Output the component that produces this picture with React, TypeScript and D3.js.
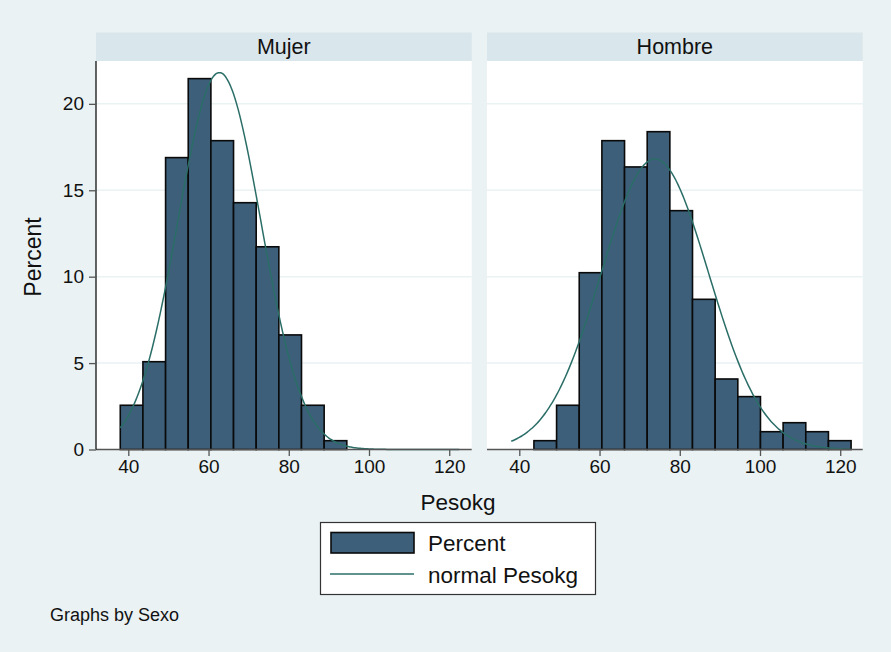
import React, { useEffect, useRef } from 'react';
import * as d3 from 'd3';

// histogram bins shared by both panels (Pesokg)
const binStart = 38;
const binWidth = 5.647;
const panels = ['Mujer', 'Hombre'];
const mujerPercent = [2.56, 5.08, 16.89, 21.46, 17.87, 14.28, 11.73, 6.63, 2.56, 0.51, 0, 0, 0, 0, 0];
const hombrePercent = [0, 0.51, 2.56, 10.23, 17.87, 16.35, 18.39, 13.82, 8.69, 4.08, 3.06, 1.03, 1.55, 1.03, 0.51];
// fitted normal (mean, sd)
const normalMean = [62.7, 73.8];
const normalSd = [10.33, 13.4];
const xTicks = [40, 60, 80, 100, 120];
const yTicks = [0, 5, 10, 15, 20];

const BG = '#eaf2f3';
const STRIP = '#d9e6eb';
const BAR = '#3d5f7a';
const LINE = '#2b6e68';
const FONT = '"Liberation Sans", Arial, sans-serif';

const App = () => {
  const ref = useRef(null);

  useEffect(() => {
    const svg = d3.select(ref.current);
    svg.selectAll('*').remove();

    const width = 891;
    const height = 652;
    svg.attr('width', width).attr('height', height);

    svg.append('rect').attr('width', width).attr('height', height).attr('fill', BG);

    const top = 61;
    const bottom = 449.5;
    const panelX = [[96, 471.7], [487, 862.7]];
    const y = d3.scaleLinear().domain([0, 22.48]).range([bottom, top]);
    const series = [mujerPercent, hombrePercent];

    panels.forEach((name, i) => {
      const [x0, x1] = panelX[i];
      const x = d3.scaleLinear().domain([31.95, 125.6]).range([x0, x1]);
      const g = svg.append('g');

      // strip
      g.append('rect').attr('x', x0).attr('y', 32.5).attr('width', x1 - x0).attr('height', top - 32.5).attr('fill', STRIP);
      g.append('text').attr('x', (x0 + x1) / 2).attr('y', 54).attr('text-anchor', 'middle')
        .attr('font-family', FONT).attr('font-size', 21.5).attr('fill', '#111').text(name);

      // plot area
      g.append('rect').attr('x', x0).attr('y', top).attr('width', x1 - x0).attr('height', bottom - top).attr('fill', '#fff');

      g.selectAll('line.grid').data(yTicks.filter(t => t > 0)).enter().append('line')
        .attr('x1', x0).attr('x2', x1).attr('y1', d => y(d)).attr('y2', d => y(d))
        .attr('stroke', BG).attr('stroke-width', 1.5);

      const bins = series[i].map((v, k) => ({ lo: binStart + k * binWidth, v })).filter(d => d.v > 0);
      g.selectAll('rect.bar').data(bins).enter().append('rect')
        .attr('x', d => x(d.lo))
        .attr('y', d => y(d.v))
        .attr('width', d => x(d.lo + binWidth) - x(d.lo))
        .attr('height', d => y(0) - y(d.v))
        .attr('fill', BAR).attr('stroke', '#0a0a0a').attr('stroke-width', 1.6);

      const peak = 100 * binWidth / (normalSd[i] * Math.sqrt(2 * Math.PI));
      const xs = d3.range(binStart, binStart + 15 * binWidth + 0.01, 0.5);
      const line = d3.line()
        .x(d => x(d))
        .y(d => y(peak * Math.exp(-0.5 * ((d - normalMean[i]) / normalSd[i]) ** 2)))
        .curve(d3.curveMonotoneX);
      g.append('path').datum(xs).attr('d', line).attr('fill', 'none').attr('stroke', LINE).attr('stroke-width', 1.5);

      // x axis
      const xa = g.append('g').attr('transform', `translate(0,${bottom})`)
        .call(d3.axisBottom(x).tickValues(xTicks).tickSize(6.5).tickPadding(4).tickSizeOuter(0));
      xa.select('.domain').attr('d', `M${x0},0H${x1}`).attr('stroke', '#555').attr('stroke-width', 1.3);
      xa.selectAll('.tick line').attr('stroke', '#555').attr('stroke-width', 1.3);
      xa.selectAll('text').attr('font-family', FONT).attr('font-size', 19).attr('fill', '#111');

      if (i === 0) {
        const ya = g.append('g').attr('transform', `translate(${x0},0)`)
          .call(d3.axisLeft(y).tickValues(yTicks).tickSize(7).tickPadding(5).tickSizeOuter(0));
        ya.select('.domain').attr('d', `M0,${top}V${bottom}`).attr('stroke', '#111').attr('stroke-width', 1.3);
        ya.selectAll('.tick line').attr('stroke', '#555').attr('stroke-width', 1.3);
        ya.selectAll('text').attr('font-family', FONT).attr('font-size', 19).attr('fill', '#111');
      }
    });

    svg.append('text').attr('transform', 'translate(41,257) rotate(-90)').attr('text-anchor', 'middle')
      .attr('font-family', FONT).attr('font-size', 23).attr('fill', '#111').text('Percent');
    svg.append('text').attr('x', 458).attr('y', 510).attr('text-anchor', 'middle')
      .attr('font-family', FONT).attr('font-size', 22.5).attr('fill', '#111').text('Pesokg');

    // legend
    const lg = svg.append('g');
    lg.append('rect').attr('x', 320.5).attr('y', 522.5).attr('width', 275).attr('height', 72)
      .attr('fill', '#fff').attr('stroke', '#333').attr('stroke-width', 1.2);
    lg.append('rect').attr('x', 331).attr('y', 532.5).attr('width', 83).attr('height', 20.5)
      .attr('fill', BAR).attr('stroke', '#0a0a0a').attr('stroke-width', 1.6);
    lg.append('line').attr('x1', 330).attr('x2', 414).attr('y1', 574).attr('y2', 574)
      .attr('stroke', LINE).attr('stroke-width', 1.5);
    lg.append('text').attr('x', 428).attr('y', 551).attr('font-family', FONT).attr('font-size', 22.5)
      .attr('fill', '#111').text('Percent');
    lg.append('text').attr('x', 428).attr('y', 583).attr('font-family', FONT).attr('font-size', 22.5)
      .attr('fill', '#111').text('normal Pesokg');

    svg.append('text').attr('x', 50).attr('y', 621).attr('font-family', FONT).attr('font-size', 18)
      .attr('fill', '#111').text('Graphs by Sexo');
  }, []);

  return (
    <div style={{ position: 'absolute', left: 0, top: 0 }}>
      <svg ref={ref}></svg>
    </div>
  );
};

export default App;
